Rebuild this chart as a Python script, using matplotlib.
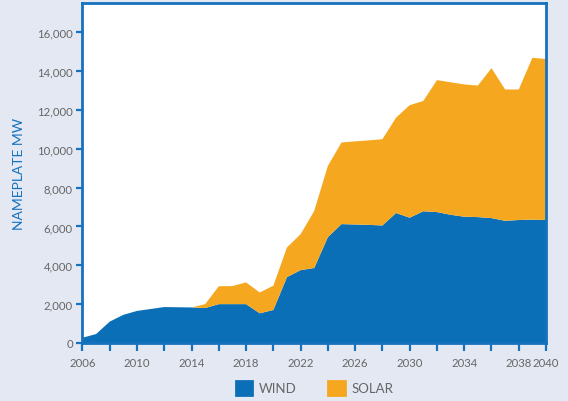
import matplotlib
matplotlib.use("Agg")
import matplotlib.pyplot as plt
from matplotlib.patches import Patch
from matplotlib.ticker import FuncFormatter

# nameplate capacity (MW) by year
years = list(range(2006, 2041))
wind = [270, 460, 1100, 1450, 1650, 1750, 1850, 1840, 1830, 1800,
        2000, 2000, 2000, 1530, 1700, 3390, 3750, 3860, 5450, 6120,
        6100, 6080, 6050, 6690, 6450, 6780, 6740, 6600, 6500, 6480,
        6430, 6290, 6330, 6350, 6330]
solar = [0, 0, 0, 0, 0, 0, 0, 0, 0, 200,
         920, 930, 1120, 1070, 1250, 1530, 1850, 2940, 3670, 4200,
         4280, 4350, 4440, 4910, 5790, 5680, 6790, 6820, 6810, 6770,
         7720, 6760, 6720, 8330, 8290]
series_names = ["WIND", "SOLAR"]
labelled_years = [2006, 2010, 2014, 2018, 2022, 2026, 2030, 2034, 2038, 2040]
y_ticks = list(range(0, 16001, 2000))

BLUE = "#0b6fb8"
ORANGE = "#f5a81f"
EDGE = "#1672be"
BG = "#e3e8f3"
GREY = "#666666"

plt.rcParams["font.family"] = ["Lato", "DejaVu Sans"]

fig = plt.figure(figsize=(5.68, 4.02), dpi=100, facecolor=BG)
ax = fig.add_axes([0.1452, 0.1443, 0.8161, 0.8457])
ax.set_facecolor("white")

ax.stackplot(years, wind, solar, colors=[BLUE, ORANGE], linewidth=0)

ax.set_xlim(2006, 2040)
ax.set_ylim(0, 17500)

ax.set_xticks(list(range(2006, 2041, 2)))
ax.set_xticklabels([str(y) if y in labelled_years else "" for y in range(2006, 2041, 2)])
ax.set_yticks(y_ticks)
ax.yaxis.set_major_formatter(FuncFormatter(lambda v, p: f"{int(v):,}"))

ax.tick_params(axis="both", direction="out", colors=EDGE, labelcolor=GREY,
               labelsize=8.2, width=1.6)
ax.tick_params(axis="x", length=6, pad=4)
ax.tick_params(axis="y", length=4, pad=3)

for s in ax.spines.values():
    s.set_color(EDGE)
    s.set_linewidth(2)

ax.set_ylabel("NAMEPLATE MW", color=EDGE, fontsize=10, labelpad=9)

handles = [Patch(facecolor=c, edgecolor=c, linewidth=2, joinstyle="round")
           for c in (BLUE, ORANGE)]
leg = ax.legend(handles, series_names, loc="center", bbox_to_anchor=(0.5, -0.132),
                ncol=2, frameon=False, fontsize=9.5, handlelength=1.25,
                handleheight=1.25, columnspacing=2.4, handletextpad=0.5)
for t in leg.get_texts():
    t.set_color(GREY)

fig.savefig("out.png", dpi=100, facecolor=BG)
